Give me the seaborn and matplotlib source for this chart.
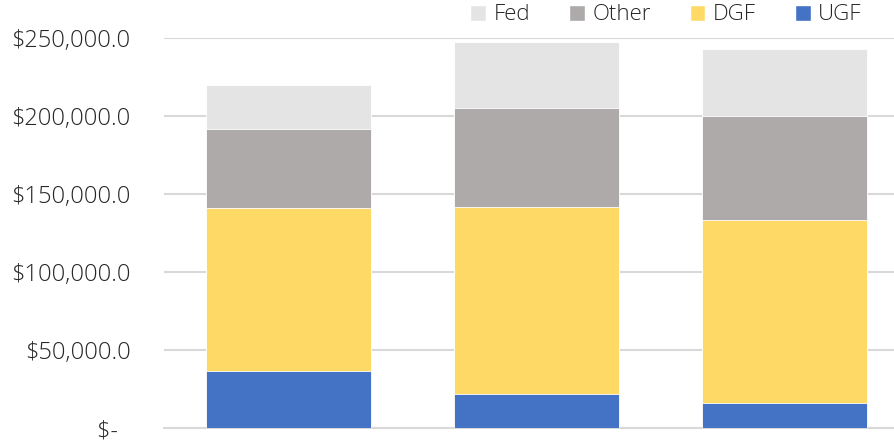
# stacked funding bars, three groups, no x labels
import matplotlib.pyplot as plt
import pandas as pd
import seaborn as sns
from matplotlib.patches import Patch
from matplotlib.ticker import FuncFormatter

groups = ['A', 'B', 'C']
ugf = [36700, 22000, 16000]
dgf = [104300, 119400, 117500]
other = [50400, 63500, 66700]
fed = [28500, 42500, 42700]

series = ['UGF', 'DGF', 'Other', 'Fed']
colors = {'UGF': '#4472C4', 'DGF': '#FFD966', 'Other': '#AEAAAA', 'Fed': '#E4E4E4'}

df = pd.DataFrame({'group': groups, 'UGF': ugf, 'DGF': dgf, 'Other': other, 'Fed': fed})
cum = df[series].cumsum(axis=1)
cum['group'] = df['group']

sns.set_style('white')
plt.rcParams['font.family'] = ['Open Sans', 'DejaVu Sans']

fig = plt.figure(figsize=(8.95, 4.43), dpi=100)
ax = fig.add_axes([0.1833, 0.0332, 0.8313, 0.8817])

# draw tallest first so lower segments sit on top
for s in reversed(series):
    sns.barplot(data=cum, x='group', y=s, color=colors[s], width=0.665,
                edgecolor='white', linewidth=0.6, saturation=1, ax=ax, zorder=3)

ax.set_xlim(-0.5, 2.5)
ax.set_ylim(0, 250000)
ax.set_yticks(range(0, 250001, 50000))
ax.yaxis.set_major_formatter(FuncFormatter(
    lambda v, p: '$-  ' if v == 0 else '${:,.1f}'.format(v)))
ax.tick_params(axis='y', length=0, pad=24, labelsize=17, labelcolor='#262626')
for t in ax.get_yticklabels():
    t.set_fontweight('light')
ax.set_xticks([])
ax.set_xlabel('')
ax.set_ylabel('')
ax.grid(axis='y', color='#D9D9D9', linewidth=1.5, zorder=0)
ax.set_axisbelow(True)
for sp in ['top', 'right', 'left']:
    ax.spines[sp].set_visible(False)
ax.spines['bottom'].set_color('#D9D9D9')
ax.spines['bottom'].set_linewidth(1.5)

handles = [Patch(facecolor=colors[s], label=s) for s in ['Fed', 'Other', 'DGF', 'UGF']]
leg = fig.legend(handles=handles, loc='center', bbox_to_anchor=(666 / 895, 1 - 15 / 443),
                 ncol=4, frameon=False, fontsize=16, handlelength=0.7, handleheight=0.7,
                 handletextpad=0.35, columnspacing=1.75, labelcolor='#262626')
for t in leg.get_texts():
    t.set_fontweight('light')

fig.savefig('out.png', dpi=100)
